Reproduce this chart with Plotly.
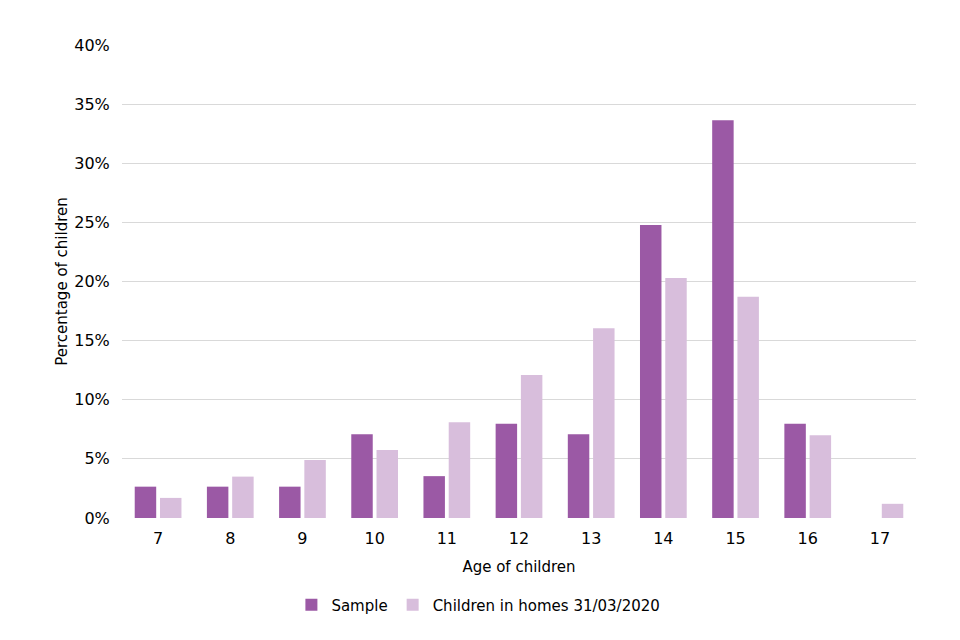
import plotly.graph_objects as go

ages = ["7", "8", "9", "10", "11", "12", "13", "14", "15", "16", "17"]
sample = [2.65, 2.65, 2.65, 7.08, 3.54, 7.96, 7.08, 24.78, 33.63, 7.96, 0.0]
homes = [1.7, 3.5, 4.9, 5.75, 8.1, 12.1, 16.05, 20.3, 18.7, 7.0, 1.2]
y_ticks = [0, 5, 10, 15, 20, 25, 30, 35, 40]
y_labels = [f"{v}%" for v in y_ticks]

FONT = "DejaVu Sans"

fig = go.Figure()
fig.add_trace(go.Bar(x=ages, y=sample, name="Sample", marker_color="#9B59A5",
                     marker_line_width=0))
fig.add_trace(go.Bar(x=ages, y=homes, name="Children in homes 31/03/2020",
                     marker_color="#D8BEDC", marker_line_width=0))

fig.update_layout(
    width=960, height=640,
    paper_bgcolor="white", plot_bgcolor="white",
    margin=dict(l=114, r=52, t=37, b=130),
    barmode="group", bargap=0.3, bargroupgap=0.15,
    font=dict(family=FONT, size=16, color="#000000"),
    showlegend=True,
    legend=dict(orientation="h", xref="container", yref="container",
                x=0.49, xanchor="center", y=0.067, yanchor="middle",
                font=dict(size=15), itemwidth=30, traceorder="normal"),
)
fig.update_yaxes(range=[0, 40], tickvals=y_ticks, ticktext=y_labels,
                 showgrid=True, gridcolor="#D9D9D9", gridwidth=1,
                 zeroline=False, showline=False,
                 ticks="outside", ticklen=8, tickcolor="rgba(0,0,0,0)",
                 title=dict(text="Percentage of children", standoff=2, font=dict(size=15)))
fig.update_xaxes(showgrid=False, showline=False, zeroline=False,
                 ticks="outside", ticklen=6, tickcolor="rgba(0,0,0,0)",
                 title=dict(text="Age of children", standoff=14, font=dict(size=15)))

fig.write_html("out.html")
